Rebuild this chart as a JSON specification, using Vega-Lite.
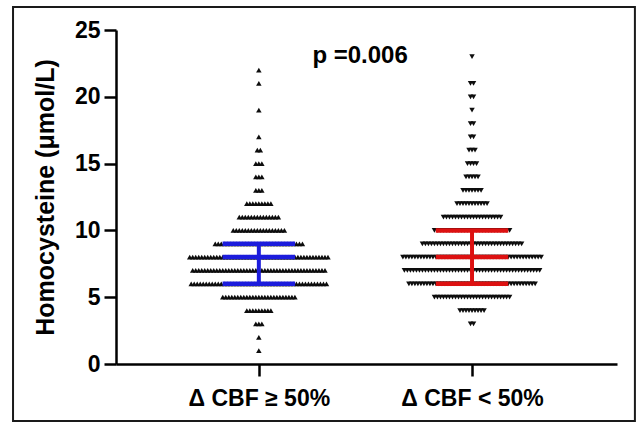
{
  "$schema": "https://vega.github.io/schema/vega-lite/v6.json",
  "width": 501,
  "height": 334,
  "autosize": {"type": "none"},
  "padding": {"left": 116, "top": 30, "right": 21, "bottom": 60},
  "background": "white",
  "config": {
    "view": {"stroke": null},
    "font": "Liberation Sans",
    "axis": {
      "domainColor": "#000000",
      "domainWidth": 2.5,
      "tickColor": "#000000",
      "tickWidth": 2.5,
      "tickSize": 12,
      "grid": false,
      "labelFont": "Liberation Sans",
      "labelFontWeight": "bold",
      "labelFontSize": 23,
      "labelColor": "#000000",
      "titleFont": "Liberation Sans",
      "titleFontWeight": "bold",
      "titleFontSize": 25,
      "titleColor": "#000000"
    }
  },
  "datasets": {
    "pts": [
      {"g":1,"v":1},{"g":1,"v":2},
      {"g":1,"v":3},{"g":1,"v":3},{"g":1,"v":3},
      {"g":1,"v":4},{"g":1,"v":4},{"g":1,"v":4},{"g":1,"v":4},{"g":1,"v":4},{"g":1,"v":4},{"g":1,"v":4},{"g":1,"v":4},{"g":1,"v":4},
      {"g":1,"v":5},{"g":1,"v":5},{"g":1,"v":5},{"g":1,"v":5},{"g":1,"v":5},{"g":1,"v":5},{"g":1,"v":5},{"g":1,"v":5},{"g":1,"v":5},{"g":1,"v":5},
      {"g":1,"v":5},{"g":1,"v":5},{"g":1,"v":5},{"g":1,"v":5},{"g":1,"v":5},{"g":1,"v":5},{"g":1,"v":5},{"g":1,"v":5},{"g":1,"v":5},{"g":1,"v":5},
      {"g":1,"v":5},{"g":1,"v":5},{"g":1,"v":5},{"g":1,"v":5},{"g":1,"v":5},
      {"g":1,"v":6},{"g":1,"v":6},{"g":1,"v":6},{"g":1,"v":6},{"g":1,"v":6},{"g":1,"v":6},{"g":1,"v":6},{"g":1,"v":6},{"g":1,"v":6},{"g":1,"v":6},
      {"g":1,"v":6},{"g":1,"v":6},{"g":1,"v":6},{"g":1,"v":6},{"g":1,"v":6},{"g":1,"v":6},{"g":1,"v":6},{"g":1,"v":6},{"g":1,"v":6},{"g":1,"v":6},
      {"g":1,"v":6},{"g":1,"v":6},{"g":1,"v":6},{"g":1,"v":6},{"g":1,"v":6},{"g":1,"v":6},{"g":1,"v":6},{"g":1,"v":6},{"g":1,"v":6},{"g":1,"v":6},
      {"g":1,"v":6},{"g":1,"v":6},{"g":1,"v":6},{"g":1,"v":6},{"g":1,"v":6},{"g":1,"v":6},{"g":1,"v":6},{"g":1,"v":6},{"g":1,"v":6},{"g":1,"v":6},
      {"g":1,"v":6},{"g":1,"v":6},{"g":1,"v":6},{"g":1,"v":6},{"g":1,"v":6},{"g":1,"v":6},
      {"g":1,"v":7},{"g":1,"v":7},{"g":1,"v":7},{"g":1,"v":7},{"g":1,"v":7},{"g":1,"v":7},{"g":1,"v":7},{"g":1,"v":7},{"g":1,"v":7},{"g":1,"v":7},
      {"g":1,"v":7},{"g":1,"v":7},{"g":1,"v":7},{"g":1,"v":7},{"g":1,"v":7},{"g":1,"v":7},{"g":1,"v":7},{"g":1,"v":7},{"g":1,"v":7},{"g":1,"v":7},
      {"g":1,"v":7},{"g":1,"v":7},{"g":1,"v":7},{"g":1,"v":7},{"g":1,"v":7},{"g":1,"v":7},{"g":1,"v":7},{"g":1,"v":7},{"g":1,"v":7},{"g":1,"v":7},
      {"g":1,"v":7},{"g":1,"v":7},{"g":1,"v":7},{"g":1,"v":7},{"g":1,"v":7},{"g":1,"v":7},{"g":1,"v":7},{"g":1,"v":7},{"g":1,"v":7},{"g":1,"v":7},
      {"g":1,"v":7},{"g":1,"v":7},{"g":1,"v":7},{"g":1,"v":7},{"g":1,"v":7},
      {"g":1,"v":8},{"g":1,"v":8},{"g":1,"v":8},{"g":1,"v":8},{"g":1,"v":8},{"g":1,"v":8},{"g":1,"v":8},{"g":1,"v":8},{"g":1,"v":8},{"g":1,"v":8},
      {"g":1,"v":8},{"g":1,"v":8},{"g":1,"v":8},{"g":1,"v":8},{"g":1,"v":8},{"g":1,"v":8},{"g":1,"v":8},{"g":1,"v":8},{"g":1,"v":8},{"g":1,"v":8},
      {"g":1,"v":8},{"g":1,"v":8},{"g":1,"v":8},{"g":1,"v":8},{"g":1,"v":8},{"g":1,"v":8},{"g":1,"v":8},{"g":1,"v":8},{"g":1,"v":8},{"g":1,"v":8},
      {"g":1,"v":8},{"g":1,"v":8},{"g":1,"v":8},{"g":1,"v":8},{"g":1,"v":8},{"g":1,"v":8},{"g":1,"v":8},{"g":1,"v":8},{"g":1,"v":8},{"g":1,"v":8},
      {"g":1,"v":8},{"g":1,"v":8},{"g":1,"v":8},{"g":1,"v":8},{"g":1,"v":8},{"g":1,"v":8},{"g":1,"v":8},
      {"g":1,"v":9},{"g":1,"v":9},{"g":1,"v":9},{"g":1,"v":9},{"g":1,"v":9},{"g":1,"v":9},{"g":1,"v":9},{"g":1,"v":9},{"g":1,"v":9},{"g":1,"v":9},
      {"g":1,"v":9},{"g":1,"v":9},{"g":1,"v":9},{"g":1,"v":9},{"g":1,"v":9},{"g":1,"v":9},{"g":1,"v":9},{"g":1,"v":9},{"g":1,"v":9},{"g":1,"v":9},
      {"g":1,"v":9},{"g":1,"v":9},{"g":1,"v":9},{"g":1,"v":9},{"g":1,"v":9},{"g":1,"v":9},{"g":1,"v":9},{"g":1,"v":9},{"g":1,"v":9},{"g":1,"v":9},
      {"g":1,"v":10},{"g":1,"v":10},{"g":1,"v":10},{"g":1,"v":10},{"g":1,"v":10},{"g":1,"v":10},{"g":1,"v":10},{"g":1,"v":10},{"g":1,"v":10},{"g":1,"v":10},
      {"g":1,"v":10},{"g":1,"v":10},{"g":1,"v":10},{"g":1,"v":10},{"g":1,"v":10},{"g":1,"v":10},{"g":1,"v":10},{"g":1,"v":10},
      {"g":1,"v":11},{"g":1,"v":11},{"g":1,"v":11},{"g":1,"v":11},{"g":1,"v":11},{"g":1,"v":11},{"g":1,"v":11},{"g":1,"v":11},{"g":1,"v":11},{"g":1,"v":11},
      {"g":1,"v":11},{"g":1,"v":11},{"g":1,"v":11},{"g":1,"v":11},
      {"g":1,"v":12},{"g":1,"v":12},{"g":1,"v":12},{"g":1,"v":12},{"g":1,"v":12},{"g":1,"v":12},{"g":1,"v":12},{"g":1,"v":12},{"g":1,"v":12},
      {"g":1,"v":13},{"g":1,"v":13},{"g":1,"v":13},
      {"g":1,"v":14},{"g":1,"v":14},{"g":1,"v":14},
      {"g":1,"v":15},{"g":1,"v":15},{"g":1,"v":15},
      {"g":1,"v":16},{"g":1,"v":16},
      {"g":1,"v":17},{"g":1,"v":19},{"g":1,"v":21},{"g":1,"v":22},

      {"g":2,"v":3},{"g":2,"v":3},
      {"g":2,"v":4},{"g":2,"v":4},{"g":2,"v":4},{"g":2,"v":4},{"g":2,"v":4},{"g":2,"v":4},{"g":2,"v":4},{"g":2,"v":4},{"g":2,"v":4},
      {"g":2,"v":5},{"g":2,"v":5},{"g":2,"v":5},{"g":2,"v":5},{"g":2,"v":5},{"g":2,"v":5},{"g":2,"v":5},{"g":2,"v":5},{"g":2,"v":5},{"g":2,"v":5},
      {"g":2,"v":5},{"g":2,"v":5},{"g":2,"v":5},{"g":2,"v":5},{"g":2,"v":5},{"g":2,"v":5},{"g":2,"v":5},{"g":2,"v":5},{"g":2,"v":5},{"g":2,"v":5},
      {"g":2,"v":5},{"g":2,"v":5},{"g":2,"v":5},{"g":2,"v":5},{"g":2,"v":5},{"g":2,"v":5},
      {"g":2,"v":6},{"g":2,"v":6},{"g":2,"v":6},{"g":2,"v":6},{"g":2,"v":6},{"g":2,"v":6},{"g":2,"v":6},{"g":2,"v":6},{"g":2,"v":6},{"g":2,"v":6},
      {"g":2,"v":6},{"g":2,"v":6},{"g":2,"v":6},{"g":2,"v":6},{"g":2,"v":6},{"g":2,"v":6},{"g":2,"v":6},{"g":2,"v":6},{"g":2,"v":6},{"g":2,"v":6},
      {"g":2,"v":6},{"g":2,"v":6},{"g":2,"v":6},{"g":2,"v":6},{"g":2,"v":6},{"g":2,"v":6},{"g":2,"v":6},{"g":2,"v":6},{"g":2,"v":6},{"g":2,"v":6},
      {"g":2,"v":6},{"g":2,"v":6},{"g":2,"v":6},{"g":2,"v":6},{"g":2,"v":6},{"g":2,"v":6},{"g":2,"v":6},{"g":2,"v":6},{"g":2,"v":6},{"g":2,"v":6},
      {"g":2,"v":6},{"g":2,"v":6},{"g":2,"v":6},
      {"g":2,"v":7},{"g":2,"v":7},{"g":2,"v":7},{"g":2,"v":7},{"g":2,"v":7},{"g":2,"v":7},{"g":2,"v":7},{"g":2,"v":7},{"g":2,"v":7},{"g":2,"v":7},
      {"g":2,"v":7},{"g":2,"v":7},{"g":2,"v":7},{"g":2,"v":7},{"g":2,"v":7},{"g":2,"v":7},{"g":2,"v":7},{"g":2,"v":7},{"g":2,"v":7},{"g":2,"v":7},
      {"g":2,"v":7},{"g":2,"v":7},{"g":2,"v":7},{"g":2,"v":7},{"g":2,"v":7},{"g":2,"v":7},{"g":2,"v":7},{"g":2,"v":7},{"g":2,"v":7},{"g":2,"v":7},
      {"g":2,"v":7},{"g":2,"v":7},{"g":2,"v":7},{"g":2,"v":7},{"g":2,"v":7},{"g":2,"v":7},{"g":2,"v":7},{"g":2,"v":7},{"g":2,"v":7},{"g":2,"v":7},
      {"g":2,"v":7},{"g":2,"v":7},{"g":2,"v":7},{"g":2,"v":7},{"g":2,"v":7},{"g":2,"v":7},
      {"g":2,"v":8},{"g":2,"v":8},{"g":2,"v":8},{"g":2,"v":8},{"g":2,"v":8},{"g":2,"v":8},{"g":2,"v":8},{"g":2,"v":8},{"g":2,"v":8},{"g":2,"v":8},
      {"g":2,"v":8},{"g":2,"v":8},{"g":2,"v":8},{"g":2,"v":8},{"g":2,"v":8},{"g":2,"v":8},{"g":2,"v":8},{"g":2,"v":8},{"g":2,"v":8},{"g":2,"v":8},
      {"g":2,"v":8},{"g":2,"v":8},{"g":2,"v":8},{"g":2,"v":8},{"g":2,"v":8},{"g":2,"v":8},{"g":2,"v":8},{"g":2,"v":8},{"g":2,"v":8},{"g":2,"v":8},
      {"g":2,"v":8},{"g":2,"v":8},{"g":2,"v":8},{"g":2,"v":8},{"g":2,"v":8},{"g":2,"v":8},{"g":2,"v":8},{"g":2,"v":8},{"g":2,"v":8},{"g":2,"v":8},
      {"g":2,"v":8},{"g":2,"v":8},{"g":2,"v":8},{"g":2,"v":8},{"g":2,"v":8},{"g":2,"v":8},{"g":2,"v":8},
      {"g":2,"v":9},{"g":2,"v":9},{"g":2,"v":9},{"g":2,"v":9},{"g":2,"v":9},{"g":2,"v":9},{"g":2,"v":9},{"g":2,"v":9},{"g":2,"v":9},{"g":2,"v":9},
      {"g":2,"v":9},{"g":2,"v":9},{"g":2,"v":9},{"g":2,"v":9},{"g":2,"v":9},{"g":2,"v":9},{"g":2,"v":9},{"g":2,"v":9},{"g":2,"v":9},{"g":2,"v":9},
      {"g":2,"v":9},{"g":2,"v":9},{"g":2,"v":9},{"g":2,"v":9},{"g":2,"v":9},{"g":2,"v":9},{"g":2,"v":9},{"g":2,"v":9},{"g":2,"v":9},{"g":2,"v":9},
      {"g":2,"v":9},{"g":2,"v":9},{"g":2,"v":9},{"g":2,"v":9},
      {"g":2,"v":10},{"g":2,"v":10},{"g":2,"v":10},{"g":2,"v":10},{"g":2,"v":10},{"g":2,"v":10},{"g":2,"v":10},{"g":2,"v":10},{"g":2,"v":10},{"g":2,"v":10},
      {"g":2,"v":10},{"g":2,"v":10},{"g":2,"v":10},{"g":2,"v":10},{"g":2,"v":10},{"g":2,"v":10},{"g":2,"v":10},{"g":2,"v":10},{"g":2,"v":10},{"g":2,"v":10},
      {"g":2,"v":10},{"g":2,"v":10},{"g":2,"v":10},{"g":2,"v":10},{"g":2,"v":10},{"g":2,"v":10},
      {"g":2,"v":11},{"g":2,"v":11},{"g":2,"v":11},{"g":2,"v":11},{"g":2,"v":11},{"g":2,"v":11},{"g":2,"v":11},{"g":2,"v":11},{"g":2,"v":11},{"g":2,"v":11},
      {"g":2,"v":11},{"g":2,"v":11},{"g":2,"v":11},{"g":2,"v":11},{"g":2,"v":11},{"g":2,"v":11},{"g":2,"v":11},{"g":2,"v":11},{"g":2,"v":11},{"g":2,"v":11},
      {"g":2,"v":12},{"g":2,"v":12},{"g":2,"v":12},{"g":2,"v":12},{"g":2,"v":12},{"g":2,"v":12},{"g":2,"v":12},{"g":2,"v":12},{"g":2,"v":12},{"g":2,"v":12},
      {"g":2,"v":12},
      {"g":2,"v":13},{"g":2,"v":13},{"g":2,"v":13},{"g":2,"v":13},{"g":2,"v":13},{"g":2,"v":13},{"g":2,"v":13},
      {"g":2,"v":14},{"g":2,"v":14},{"g":2,"v":14},{"g":2,"v":14},{"g":2,"v":14},
      {"g":2,"v":15},{"g":2,"v":15},{"g":2,"v":15},{"g":2,"v":15},
      {"g":2,"v":16},{"g":2,"v":16},{"g":2,"v":16},
      {"g":2,"v":17},{"g":2,"v":17},
      {"g":2,"v":18},{"g":2,"v":18},
      {"g":2,"v":19},
      {"g":2,"v":20},{"g":2,"v":20},
      {"g":2,"v":21},{"g":2,"v":21},
      {"g":2,"v":23}
    ],
    "stats": [
      {"g":1,"q1":6,"med":8,"q3":9},
      {"g":2,"q1":6,"med":8,"q3":10}
    ]
  },
  "layer": [
    {
      "data": {"values": [{}]},
      "mark": {"type": "rect", "filled": false, "stroke": "#1a1a1a", "strokeWidth": 2, "clip": false},
      "encoding": {
        "x": {"datum": -0.153, "type": "quantitative", "title": null, "scale": {"domain": [0.33, 2.68], "nice": false, "zero": false}},
        "x2": {"datum": 2.764},
        "y": {"datum": -4.27, "type": "quantitative", "title": "Homocysteine (μmol/L)", "scale": {"domain": [0, 25], "nice": false, "zero": false}},
        "y2": {"datum": 26.72}
      }
    },
    {
      "data": {"name": "pts"},
      "transform": [
        {"window": [{"op": "row_number", "as": "rn"}, {"op": "count", "as": "n"}], "groupby": ["g", "v"], "frame": [null, null]},
        {"calculate": "datum.g + (datum.rn - (datum.n + 1) / 2) * 0.0141", "as": "px"}
      ],
      "mark": {"type": "point", "filled": true, "size": 30, "opacity": 1},
      "encoding": {
        "x": {"field": "px", "type": "quantitative", "title": null,
          "axis": {"values": [1, 2], "labelExpr": "datum.value == 1 ? 'Δ CBF ≥ 50%' : 'Δ CBF < 50%'", "labelPadding": 11},
          "scale": {"domain": [0.33, 2.68], "nice": false, "zero": false}},
        "y": {"field": "v", "type": "quantitative", "title": "Homocysteine (μmol/L)",
          "axis": {"values": [0, 5, 10, 15, 20, 25], "labelPadding": 4, "titlePadding": 16},
          "scale": {"domain": [0, 25], "nice": false, "zero": false}},
        "shape": {"field": "g", "type": "nominal", "scale": {"domain": [1, 2], "range": ["triangle-up", "triangle-down"]}, "legend": null},
        "color": {"value": "#0d0d0d"}
      }
    },
    {
      "data": {"name": "stats"},
      "mark": {"type": "rule", "strokeWidth": 4},
      "encoding": {
        "x": {"field": "g", "type": "quantitative", "title": null},
        "y": {"field": "q1", "type": "quantitative", "title": "Homocysteine (μmol/L)"},
        "y2": {"field": "q3"},
        "color": {"field": "g", "type": "nominal", "scale": {"domain": [1, 2], "range": ["#1c1cdc", "#dd1111"]}, "legend": null}
      }
    },
    {
      "data": {"name": "stats"},
      "transform": [
        {"fold": ["q1", "med", "q3"], "as": ["stat", "val"]},
        {"calculate": "datum.g - 0.17", "as": "lo"},
        {"calculate": "datum.g + 0.17", "as": "hi"}
      ],
      "mark": {"type": "rule", "strokeWidth": 4.5, "strokeCap": "butt"},
      "encoding": {
        "x": {"field": "lo", "type": "quantitative", "title": null},
        "x2": {"field": "hi"},
        "y": {"field": "val", "type": "quantitative", "title": "Homocysteine (μmol/L)"},
        "color": {"field": "g", "type": "nominal", "scale": {"domain": [1, 2], "range": ["#1c1cdc", "#dd1111"]}, "legend": null}
      }
    },
    {
      "data": {"values": [{"label": "p =0.006"}]},
      "mark": {"type": "text", "font": "Liberation Sans", "fontWeight": "bold", "fontSize": 24, "align": "center", "baseline": "alphabetic", "color": "#000000"},
      "encoding": {
        "x": {"datum": 1.475, "type": "quantitative", "title": null},
        "y": {"datum": 22.5, "type": "quantitative", "title": "Homocysteine (μmol/L)"},
        "text": {"field": "label"}
      }
    }
  ]
}
